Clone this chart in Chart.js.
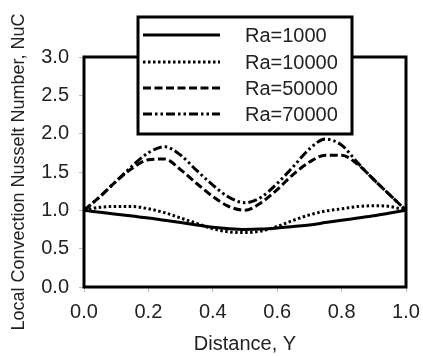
<!DOCTYPE html>
<html>
<head>
<meta charset="utf-8">
<script src="https://cdn.jsdelivr.net/npm/chart.js@4/dist/chart.umd.min.js"></script>
<style>
  html, body { margin: 0; padding: 0; background: #fff; }
  #wrap { width: 423px; height: 356px; }
</style>
</head>
<body>
<div id="wrap"><canvas id="graf" width="423" height="356"></canvas></div>
<script>
const distance = [0, 0.05, 0.1, 0.15, 0.2, 0.25, 0.3, 0.35, 0.4, 0.45, 0.5,
  0.55, 0.6, 0.65, 0.7, 0.75, 0.8, 0.85, 0.9, 0.95, 1.0];
const ra1000 = [1.0, 0.975, 0.95, 0.925, 0.9, 0.87, 0.84, 0.81, 0.78, 0.76, 0.75,
  0.755, 0.77, 0.79, 0.81, 0.84, 0.87, 0.9, 0.93, 0.965, 1.0];
const ra10000 = [1.0, 1.04, 1.05, 1.05, 1.02, 0.97, 0.9, 0.83, 0.76, 0.72, 0.71,
  0.73, 0.79, 0.87, 0.94, 0.99, 1.02, 1.05, 1.06, 1.05, 1.0];
const ra50000 = [1.0, 1.18, 1.38, 1.55, 1.66, 1.67, 1.53, 1.35, 1.18, 1.05, 1.0,
  1.1, 1.27, 1.47, 1.63, 1.72, 1.72, 1.6, 1.4, 1.2, 1.0];
const ra70000 = [1.0, 1.18, 1.38, 1.58, 1.75, 1.83, 1.72, 1.52, 1.33, 1.17, 1.1,
  1.17, 1.35, 1.57, 1.8, 1.93, 1.85, 1.62, 1.4, 1.2, 1.0];
const seriesNames = ["Ra=1000", "Ra=10000", "Ra=50000", "Ra=70000"];
const xTicks = [0, 0.2, 0.4, 0.6, 0.8, 1.0];
const yTicks = [0, 0.5, 1.0, 1.5, 2.0, 2.5, 3.0];

const dashes = [[], [2.5, 2.5], [8, 3.5], [9, 3, 2.5, 3, 2.5, 3]];
const FONT = "'Liberation Sans', Arial, sans-serif";

function pts(ys) {
  return distance.map((x, i) => ({ x: x, y: ys[i] }));
}

const datasets = [ra1000, ra10000, ra50000, ra70000].map((ys, i) => ({
  label: seriesNames[i],
  data: pts(ys),
  borderColor: "#000",
  borderWidth: 3,
  borderDash: dashes[i],
  borderCapStyle: "butt",
  pointRadius: 0,
  fill: false,
  cubicInterpolationMode: "monotone"
}));

// frame round the plot area and the boxed legend over its top edge
const frameAndLegend = {
  id: "frameAndLegend",
  afterDraw(chart) {
    const ctx = chart.ctx;
    const a = chart.chartArea;
    ctx.save();
    ctx.strokeStyle = "#000";
    ctx.lineWidth = 3;
    ctx.strokeRect(a.left, a.top, a.right - a.left, a.bottom - a.top);

    const bx = 138, by = 17, bw = 214, bh = 117;
    ctx.fillStyle = "#fff";
    ctx.fillRect(bx, by, bw, bh);
    ctx.strokeRect(bx, by, bw, bh);

    const rows = [35, 62, 88, 114];
    chart.data.datasets.forEach((ds, i) => {
      ctx.beginPath();
      ctx.setLineDash(ds.borderDash);
      ctx.lineWidth = 3;
      ctx.moveTo(143, rows[i]);
      ctx.lineTo(220, rows[i]);
      ctx.stroke();
      ctx.setLineDash([]);
      ctx.fillStyle = "#222";
      ctx.font = "20px " + FONT;
      ctx.textBaseline = "middle";
      ctx.fillText(ds.label, 245, rows[i] + 1);
    });
    ctx.restore();
  }
};

new Chart(document.getElementById("graf"), {
  type: "line",
  data: { datasets: datasets },
  plugins: [frameAndLegend],
  options: {
    responsive: false,
    animation: false,
    layout: { padding: { top: 57, right: 17, left: 0, bottom: 0 } },
    plugins: { legend: { display: false }, tooltip: { enabled: false } },
    scales: {
      x: {
        type: "linear",
        min: 0,
        max: 1,
        afterBuildTicks: s => { s.ticks = xTicks.map(v => ({ value: v })); },
        afterFit: s => { s.height = 69; s.paddingLeft = 0; s.paddingRight = 0; },
        border: { display: false },
        grid: { drawOnChartArea: false, tickLength: 5, color: "#bbb" },
        ticks: {
          color: "#222",
          font: { family: FONT, size: 20 },
          padding: 8,
          maxRotation: 0,
          callback: v => v.toFixed(1)
        },
        title: {
          display: true,
          text: "Distance, Y",
          color: "#222",
          font: { family: FONT, size: 20 },
          padding: { top: 0, bottom: 0 }
        }
      },
      y: {
        min: 0,
        max: 3,
        afterBuildTicks: s => { s.ticks = yTicks.map(v => ({ value: v })); },
        afterFit: s => { s.width = 84; s.paddingTop = 0; s.paddingBottom = 0; },
        border: { display: false },
        grid: { drawOnChartArea: false, tickLength: 5, color: "#bbb" },
        ticks: {
          color: "#222",
          font: { family: FONT, size: 20 },
          padding: 10,
          callback: v => v.toFixed(1)
        },
        title: {
          display: true,
          text: "Local Convection Nusselt Number, NuC",
          color: "#222",
          font: { family: FONT, size: 18 },
          padding: { top: 8, bottom: 0 }
        }
      }
    }
  }
});
</script>
</body>
</html>
